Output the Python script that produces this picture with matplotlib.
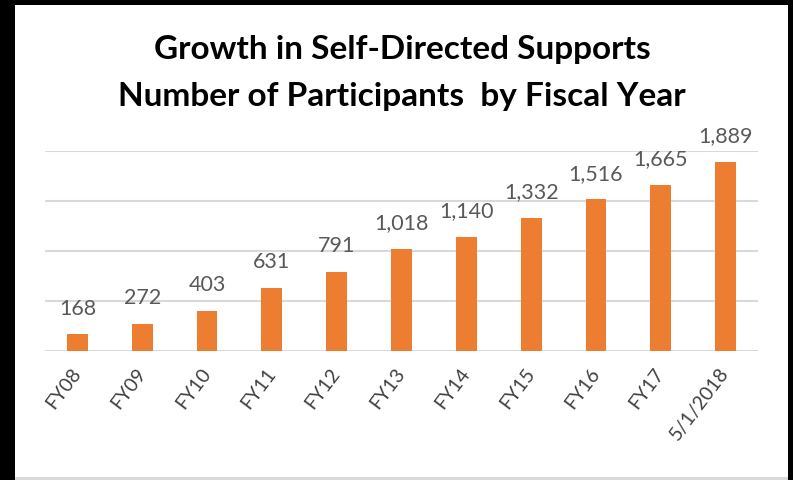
import matplotlib.pyplot as plt
from matplotlib.patches import Rectangle

categories = ["FY08", "FY09", "FY10", "FY11", "FY12", "FY13",
              "FY14", "FY15", "FY16", "FY17", "5/1/2018"]
participants = [168, 272, 403, 631, 791, 1018, 1140, 1332, 1516, 1665, 1889]

plt.rcParams['font.family'] = ['Lato', 'DejaVu Sans']

W, H = 793, 481
fig = plt.figure(figsize=(W / 100, H / 100), dpi=100)

# black frame round the chart, grey along the bottom
fig.patches.append(Rectangle((0, 0), 1, 1, transform=fig.transFigure,
                             facecolor="black", edgecolor="none", zorder=-3))
fig.patches.append(Rectangle((15 / W, 0), (788 - 15) / W, (H - 6) / H,
                             transform=fig.transFigure, facecolor="#d9d9d9",
                             edgecolor="none", zorder=-2))
fig.patches.append(Rectangle((15 / W, 3 / H), (788 - 15) / W, (H - 9) / H,
                             transform=fig.transFigure, facecolor="white",
                             edgecolor="none", zorder=-1))

ax = fig.add_axes([45 / W, 129 / H, 713 / W, 200 / H])
ax.set_facecolor("none")
x = range(len(categories))
ax.bar(x, participants, width=0.32, color="#ed7d31", zorder=3)
ax.set_xlim(-0.5, len(categories) - 0.5)
ax.set_ylim(0, 2000)
ax.set_yticks([0, 500, 1000, 1500, 2000])
ax.yaxis.grid(True, color="#d9d9d9", linewidth=1.5, zorder=0)
ax.tick_params(axis="y", left=False, labelleft=False)
ax.tick_params(axis="x", length=0, pad=13)
for s in ax.spines.values():
    s.set_visible(False)

ax.set_xticks(list(x))
ax.set_xticklabels(categories, rotation=53, ha="right", va="center",
                   rotation_mode="anchor", fontsize=14, color="#404040")

for i, v in zip(x, participants):
    ax.annotate(f"{v:,}", (i, v), xytext=(0, 12), textcoords="offset points",
                ha="center", va="bottom", fontsize=15.5, color="#595959")

fig.text(402 / W, 1 - 50 / H, "Growth in Self-Directed Supports",
         ha="center", va="center", fontsize=24, fontweight="bold", color="black")
fig.text(402 / W, 1 - 97 / H, "Number of Participants  by Fiscal Year",
         ha="center", va="center", fontsize=24, fontweight="bold", color="black")

fig.savefig("out.png", dpi=100)
